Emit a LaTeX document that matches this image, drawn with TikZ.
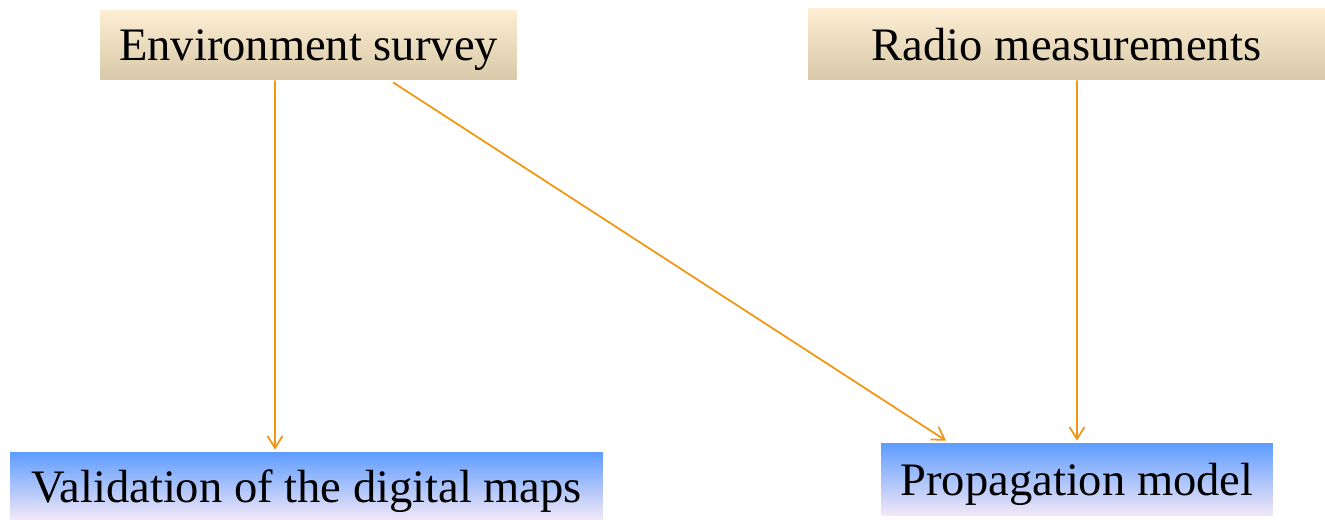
\documentclass[tikz,border=0pt]{standalone}
\usepackage{fontspec}
\setmainfont{Liberation Serif}
\usetikzlibrary{arrows.meta}

\definecolor{creamtop}{HTML}{FDEED4}
\definecolor{creambot}{HTML}{D8C9A8}
\definecolor{bluetop}{HTML}{5E9CFF}
\definecolor{bluebot}{HTML}{F3E8F6}
\definecolor{arrowor}{HTML}{F29611}

\begin{document}
\begin{tikzpicture}[
    x=0.02cm, y=-0.02cm,
    input/.style={
        inner sep=0pt,
        text depth=0pt,
        top color=creamtop,
        bottom color=creambot,
        font=\fontsize{26.5}{30}\selectfont
    },
    result/.style={
        inner sep=0pt,
        text depth=0pt,
        top color=bluetop,
        bottom color=bluebot,
        font=\fontsize{26.5}{30}\selectfont
    },
    flow/.style={
        draw=arrowor,
        line width=1pt,
        -{Straight Barb[length=2.4mm,width=3mm]}
    }
]

% bounding box
\useasboundingbox (0,0) rectangle (1325,520);

% blocks
\node[input, minimum width=8.34cm, minimum height=1.4cm] (env) at (308.5,45) {Environment survey};
\node[input, minimum width=10.34cm, minimum height=1.44cm] (radio) at (1066.5,44) {Radio measurements};
\node[result, minimum width=11.86cm, minimum height=1.36cm] (valid) at (306.5,486) {Validation of the digital maps};
\node[result, minimum width=7.84cm, minimum height=1.46cm] (prop) at (1077,479.5) {Propagation model};

% arrows
\draw[flow] ([xshift=-0.67cm]env.south) -- ([xshift=-0.63cm,yshift=0.04cm]valid.north);
\draw[flow] ([xshift=1.69cm,yshift=-0.04cm]env.south) -- ([xshift=-2.62cm,yshift=0.04cm]prop.north);
\draw[flow] ([xshift=0.21cm]radio.south) -- ([yshift=0.04cm]prop.north);

\end{tikzpicture}
\end{document}
